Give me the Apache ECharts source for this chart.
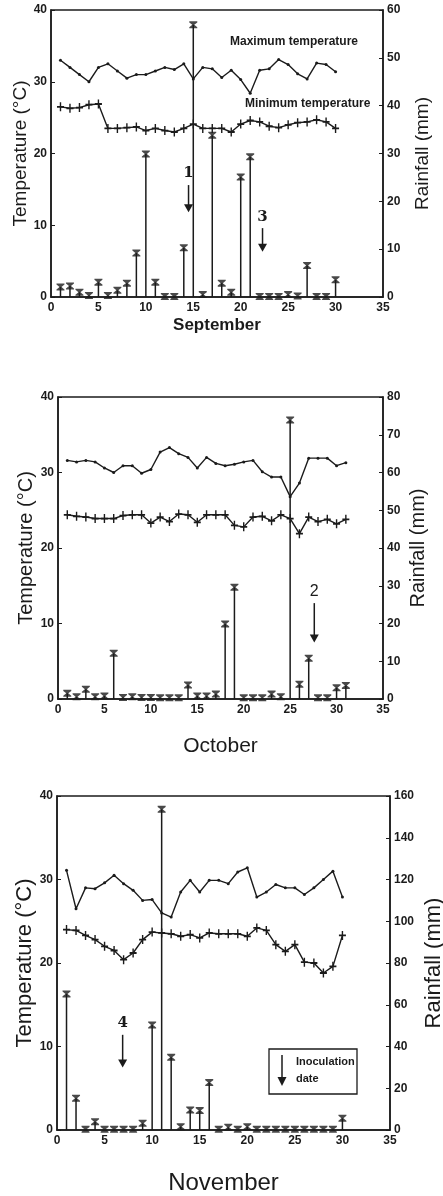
<!DOCTYPE html>
<html>
<head>
<meta charset="utf-8">
<script src="https://cdn.jsdelivr.net/npm/echarts@6/dist/echarts.min.js"></script>
<style>
  html, body { margin: 0; padding: 0; background: #fff; }
  #main { width: 443px; height: 1196px; }
</style>
</head>
<body>
<div id="main"></div>
<script>
// September
const sepMax = [33.0, 32.0, 31.0, 30.0, 32.0, 32.5, 31.5, 30.5, 31.0, 31.0, 31.5, 32.0, 31.7, 32.5, 30.4,
  32.0, 31.8, 30.6, 31.6, 30.3, 28.4, 31.6, 31.8, 33.1, 32.4, 31.1, 30.4, 32.6, 32.4, 31.4]
const sepMin = [26.5, 26.3, 26.4, 26.8, 26.9, 23.5, 23.5, 23.6, 23.7, 23.2, 23.5, 23.2, 23.0, 23.5, 24.1,
  23.5, 23.5, 23.5, 23.0, 24.1, 24.6, 24.4, 23.8, 23.6, 24.0, 24.3, 24.4, 24.7, 24.4, 23.5]
const sepRain = [2.1, 2.3, 1.0, 0.3, 3.1, 0.3, 1.4, 2.9, 9.2, 29.9, 3.1, 0.1, 0.1, 10.3, 56.9,
  0.5, 33.8, 2.9, 1.0, 25.1, 29.3, 0.1, 0.1, 0.1, 0.5, 0.2, 6.6, 0.1, 0.1, 3.6]
// October
const octMax = [31.6, 31.4, 31.6, 31.4, 30.6, 30.0, 30.9, 30.9, 29.9, 30.4, 32.7, 33.3, 32.5, 32.0, 30.6, 32.0,
  31.2, 30.9, 31.1, 31.4, 31.6, 30.1, 29.4, 29.4, 26.8, 28.6, 31.9, 31.9, 31.9, 30.9, 31.3]
const octMin = [24.4, 24.2, 24.1, 23.9, 23.9, 23.9, 24.3, 24.4, 24.4, 23.3, 24.1, 23.5, 24.5, 24.4, 23.4, 24.4,
  24.4, 24.4, 23.0, 22.8, 24.1, 24.2, 23.6, 24.4, 23.9, 21.9, 24.1, 23.5, 23.8, 23.2, 23.8]
const octRain = [1.5, 0.6, 2.6, 0.6, 0.8, 12.1, 0.4, 0.6, 0.4, 0.4, 0.3, 0.3, 0.3, 3.7, 0.8, 0.8,
  1.3, 19.9, 29.6, 0.3, 0.3, 0.3, 1.3, 0.6, 73.9, 3.9, 10.8, 0.3, 0.3, 3.0, 3.6]
// November
const novMax = [31.1, 26.5, 29.0, 28.9, 29.6, 30.5, 29.5, 28.7, 27.5, 27.6, 26.0, 25.5, 28.5, 29.9, 28.5,
  29.9, 29.9, 29.5, 30.9, 31.4, 27.9, 28.5, 29.4, 29.0, 29.0, 28.2, 29.0, 30.0, 31.0, 27.9]
const novMin = [24.0, 23.9, 23.3, 22.8, 22.0, 21.5, 20.4, 21.2, 22.8, 23.7, 23.6, 23.5, 23.2, 23.4, 23.0,
  23.6, 23.5, 23.5, 23.5, 23.2, 24.2, 23.9, 22.2, 21.4, 22.2, 20.1, 20.0, 18.8, 19.6, 23.3]
const novRain = [65.2, 15.2, 0.3, 4.0, 0.3, 0.3, 0.3, 0.3, 3.2, 50.3, 153.6, 34.8, 1.6, 9.6, 9.3,
  22.7, 0.3, 1.3, 0.3, 1.6, 0.3, 0.3, 0.3, 0.3, 0.3, 0.3, 0.3, 0.3, 0.3, 5.6]

// inoculation arrows: [day, top temp, tip temp]
const sepArrows = [[14.5, 15.6, 11.8], [22.3, 9.6, 6.3]]
const sepArrowLabels = ['1', '3']
const octArrows = [[27.6, 12.7, 7.5]]
const octArrowLabels = ['2']
const novArrows = [[6.9, 11.4, 7.5]]
const novArrowLabels = ['4']

const months = ['September', 'October', 'November']
const rainMax = [60, 80, 160]
const rainStep = [10, 10, 20]

const ink = '#1b1b1b'
const font = 'Liberation Sans'

function pairs (arr) {
  return arr.map(function (v, i) { return [i + 1, v] })
}

function arrowRenderer (labels, serif) {
  return function (params, api) {
    const top = api.coord([api.value(0), api.value(1)])
    const tip = api.coord([api.value(0), api.value(2)])
    return {
      type: 'group',
      children: [
        {type: 'line', shape: {x1: top[0], y1: top[1], x2: tip[0], y2: tip[1] - 6},
          style: {stroke: ink, lineWidth: 1.5}},
        {type: 'polygon', shape: {points: [[tip[0] - 4.5, tip[1] - 8], [tip[0] + 4.5, tip[1] - 8], [tip[0], tip[1]]]},
          style: {fill: ink}},
        {type: 'text', x: top[0], y: top[1] - 4,
          style: {text: labels[params.dataIndex], fill: ink, align: 'center', verticalAlign: 'bottom',
            font: (serif ? 'bold 15px "DejaVu Serif"' : '16px "Liberation Sans"')}}
      ]
    }
  }
}

const grids = [
  {left: 51, right: 60, top: 10, height: 287},
  {left: 58, right: 60, top: 397, height: 302},
  {left: 57, right: 53, top: 796, height: 334}
]
const nameSize = [19, 20, 22]
const leftGap = [21, 22, 21]
const rightGap = [30, 25, 33]
const monthSize = [17, 21, 24]
const monthGap = [20, 37, 41]
const monthWeight = ['bold', 'normal', 'normal']

const axisLabel = {color: ink, fontFamily: font, fontWeight: 'bold', fontSize: 12}
const axisLine = {show: true, lineStyle: {color: ink, width: 1.5}}

const xAxes = []
const yAxes = []
grids.forEach(function (g, i) {
  xAxes.push({
    type: 'value', gridIndex: i, min: 0, max: 35, interval: 5,
    axisLine: axisLine, axisTick: {show: false}, splitLine: {show: false},
    axisLabel: Object.assign({margin: 5}, axisLabel),
    name: months[i], nameLocation: 'middle', nameGap: monthGap[i], nameMoveOverlap: false,
    nameTextStyle: {color: ink, fontFamily: font, fontSize: monthSize[i], fontWeight: monthWeight[i]}
  })
  yAxes.push({
    type: 'value', gridIndex: i, min: 0, max: 40, interval: 10, position: 'left',
    axisLine: axisLine, axisTick: {show: true, inside: true, length: 4, lineStyle: {color: ink}},
    splitLine: {show: false}, axisLabel: Object.assign({margin: 4}, axisLabel),
    name: 'Temperature (°C)', nameLocation: 'middle', nameRotate: 90, nameGap: leftGap[i],
    nameMoveOverlap: false,
    nameTextStyle: {color: ink, fontFamily: font, fontSize: nameSize[i]}
  })
  yAxes.push({
    type: 'value', gridIndex: i, min: 0, max: rainMax[i], interval: rainStep[i], position: 'right',
    axisLine: axisLine, axisTick: {show: true, inside: true, length: 4, lineStyle: {color: ink}},
    splitLine: {show: false}, axisLabel: Object.assign({margin: 4}, axisLabel),
    name: 'Rainfall (mm)', nameLocation: 'middle', nameRotate: 90, nameGap: rightGap[i],
    nameMoveOverlap: false,
    nameTextStyle: {color: ink, fontFamily: font, fontSize: nameSize[i]}
  })
})

const plusSym = 'path://M4,0H6V4H10V6H6V10H4V6H0V4H4Z'
const glassSym = 'path://M0,0H10V1.5L6.2,5L10,8.5V10H0V8.5L3.8,5L0,1.5Z'

const sets = [
  {max: sepMax, min: sepMin, rain: sepRain, arrows: sepArrows, labels: sepArrowLabels, serif: true},
  {max: octMax, min: octMin, rain: octRain, arrows: octArrows, labels: octArrowLabels, serif: false},
  {max: novMax, min: novMin, rain: novRain, arrows: novArrows, labels: novArrowLabels, serif: true}
]

const series = []
sets.forEach(function (s, i) {
  series.push({
    type: 'bar', xAxisIndex: i, yAxisIndex: i * 2 + 1, data: pairs(s.rain),
    barWidth: 1.5, itemStyle: {color: ink}, silent: true
  })
  series.push({
    type: 'scatter', xAxisIndex: i, yAxisIndex: i * 2 + 1, data: pairs(s.rain),
    symbol: glassSym, symbolSize: [8, 7], itemStyle: {color: ink}, silent: true
  })
  series.push({
    type: 'line', xAxisIndex: i, yAxisIndex: i * 2, data: pairs(s.max),
    symbol: 'circle', symbolSize: 3, showAllSymbol: true,
    lineStyle: {color: ink, width: 1.4}, itemStyle: {color: ink}, silent: true
  })
  series.push({
    type: 'line', xAxisIndex: i, yAxisIndex: i * 2, data: pairs(s.min),
    symbol: plusSym, symbolSize: [7, 9], showAllSymbol: true,
    lineStyle: {color: ink, width: 1.4}, itemStyle: {color: ink}, silent: true
  })
  series.push({
    type: 'custom', xAxisIndex: i, yAxisIndex: i * 2, data: s.arrows,
    renderItem: arrowRenderer(s.labels, s.serif), silent: true
  })
})

const chart = echarts.init(document.getElementById('main'))
chart.setOption({
  backgroundColor: '#fff',
  animation: false,
  grid: grids.map(function (g) {
    return Object.assign({show: true, borderColor: ink, borderWidth: 1.5, backgroundColor: 'transparent',
      containLabel: false, outerBoundsMode: 'none'}, g)
  }),
  xAxis: xAxes,
  yAxis: yAxes,
  series: series,
  graphic: [
    {type: 'text', left: 230, top: 36,
      style: {text: 'Maximum temperature', fill: ink, font: 'bold 12px "Liberation Sans"'}},
    {type: 'text', left: 245, top: 98,
      style: {text: 'Minimum temperature', fill: ink, font: 'bold 12px "Liberation Sans"'}},
    {type: 'rect', shape: {x: 269, y: 1049, width: 88, height: 45},
      style: {fill: '#fff', stroke: ink, lineWidth: 1.3}},
    {type: 'line', shape: {x1: 282, y1: 1055, x2: 282, y2: 1078}, style: {stroke: ink, lineWidth: 1.5}},
    {type: 'polygon', shape: {points: [[277.5, 1077], [286.5, 1077], [282, 1086]]}, style: {fill: ink}},
    {type: 'text', left: 296, top: 1056,
      style: {text: 'Inoculation', fill: ink, font: 'bold 11px "Liberation Sans"'}},
    {type: 'text', left: 296, top: 1073,
      style: {text: 'date', fill: ink, font: 'bold 11px "Liberation Sans"'}}
  ]
})
</script>
</body>
</html>
